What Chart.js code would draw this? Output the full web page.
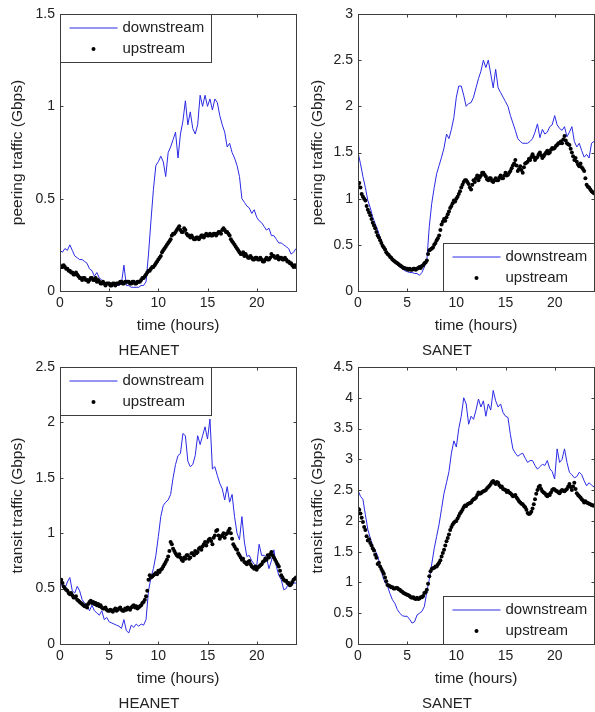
<!DOCTYPE html>
<html><head><meta charset="utf-8">
<script src="https://cdn.jsdelivr.net/npm/chart.js@4/dist/chart.umd.min.js"></script>
<style>
html,body{margin:0;padding:0;background:#fff;}
#wrap{position:relative;width:595px;height:712px;overflow:hidden;background:#fff;}
canvas{position:absolute;}
</style></head><body>
<div id="wrap">
<canvas id="c1" width="300" height="362" style="left:0px;top:0px"></canvas>
<canvas id="c2" width="300" height="362" style="left:298px;top:0px"></canvas>
<canvas id="c3" width="300" height="362" style="left:0px;top:353px"></canvas>
<canvas id="c4" width="300" height="362" style="left:298px;top:353px"></canvas>
</div>
<script>
// ---- categories (time of day, hours) ----
// downstream samples (every 15 min)
const hours = [0,0.25,0.5,0.75,1,1.25,1.5,1.75,2,2.25,2.5,2.75,3,3.25,3.5,3.75,4,4.25,4.5,4.75,5,5.25,5.5,5.75,
6,6.25,6.5,6.75,7,7.25,7.5,7.75,8,8.25,8.5,8.75,9,9.25,9.5,9.75,10,10.25,10.5,10.75,11,11.25,11.5,11.75,
12,12.25,12.5,12.75,13,13.25,13.5,13.75,14,14.25,14.5,14.75,15,15.25,15.5,15.75,16,16.25,16.5,16.75,17,17.25,17.5,17.75,
18,18.25,18.5,18.75,19,19.25,19.5,19.75,20,20.25,20.5,20.75,21,21.25,21.5,21.75,22,22.25,22.5,22.75,23,23.25,23.5,23.75,24];
// upstream samples (every 7.5 min)
const hoursFine = [
0,0.125,0.25,0.375,0.5,0.625,0.75,0.875,1,1.125,1.25,1.375,1.5,1.625,1.75,1.875,
2,2.125,2.25,2.375,2.5,2.625,2.75,2.875,3,3.125,3.25,3.375,3.5,3.625,3.75,3.875,
4,4.125,4.25,4.375,4.5,4.625,4.75,4.875,5,5.125,5.25,5.375,5.5,5.625,5.75,5.875,
6,6.125,6.25,6.375,6.5,6.625,6.75,6.875,7,7.125,7.25,7.375,7.5,7.625,7.75,7.875,
8,8.125,8.25,8.375,8.5,8.625,8.75,8.875,9,9.125,9.25,9.375,9.5,9.625,9.75,9.875,
10,10.125,10.25,10.375,10.5,10.625,10.75,10.875,11,11.125,11.25,11.375,11.5,11.625,11.75,11.875,
12,12.125,12.25,12.375,12.5,12.625,12.75,12.875,13,13.125,13.25,13.375,13.5,13.625,13.75,13.875,
14,14.125,14.25,14.375,14.5,14.625,14.75,14.875,15,15.125,15.25,15.375,15.5,15.625,15.75,15.875,
16,16.125,16.25,16.375,16.5,16.625,16.75,16.875,17,17.125,17.25,17.375,17.5,17.625,17.75,17.875,
18,18.125,18.25,18.375,18.5,18.625,18.75,18.875,19,19.125,19.25,19.375,19.5,19.625,19.75,19.875,
20,20.125,20.25,20.375,20.5,20.625,20.75,20.875,21,21.125,21.25,21.375,21.5,21.625,21.75,21.875,
22,22.125,22.25,22.375,22.5,22.625,22.75,22.875,23,23.125,23.25,23.375,23.5,23.625,23.75,23.875,
24];

// ---- HEANET peering (Gbps) ----
const heaPeerDown = [0.22,0.21,0.23,0.22,0.25,0.22,0.19,0.18, 0.17,0.17,0.16,0.15,0.12,0.11,0.08,0.10,
0.07,0.06,0.05,0.04,0.04,0.03,0.03,0.03, 0.03,0.04,0.14,0.03,0.03,0.02,0.02,0.02,
0.02,0.03,0.03,0.05,0.20,0.38,0.55,0.68, 0.70,0.73,0.70,0.62,0.75,0.78,0.82,0.86,
0.72,0.85,0.92,1.03,0.90,0.97,0.88,0.85, 0.90,1.06,1.00,1.06,1.00,1.04,0.98,1.04,
1.02,0.95,0.90,0.86,0.78,0.80,0.75,0.72, 0.68,0.62,0.50,0.48,0.46,0.45,0.42,0.44,
0.40,0.38,0.37,0.35,0.33,0.34,0.30,0.30, 0.28,0.26,0.26,0.25,0.24,0.23,0.20,0.21, 0.23];
const heaPeerUp = [
0.14,0.13,0.13,0.14,0.13,0.12,0.12,0.11,0.11,0.10,0.10,0.09,0.09,0.10,0.09,0.08,
0.07,0.07,0.06,0.07,0.07,0.06,0.06,0.05,0.06,0.07,0.07,0.06,0.06,0.07,0.05,0.06,
0.05,0.04,0.04,0.05,0.04,0.03,0.04,0.04,0.04,0.03,0.03,0.04,0.04,0.03,0.04,0.04,
0.04,0.05,0.05,0.04,0.04,0.05,0.05,0.05,0.05,0.04,0.04,0.05,0.05,0.04,0.04,0.05,
0.05,0.05,0.06,0.07,0.07,0.08,0.09,0.10,0.11,0.11,0.12,0.13,0.13,0.14,0.15,0.16,
0.17,0.18,0.19,0.21,0.22,0.23,0.24,0.25,0.26,0.27,0.28,0.30,0.31,0.31,0.32,0.33,
0.34,0.35,0.33,0.32,0.32,0.34,0.33,0.31,0.30,0.30,0.29,0.30,0.29,0.28,0.28,0.29,
0.29,0.28,0.29,0.30,0.30,0.29,0.30,0.31,0.30,0.30,0.31,0.30,0.30,0.31,0.31,0.30,
0.31,0.32,0.32,0.31,0.33,0.34,0.33,0.32,0.32,0.31,0.30,0.28,0.27,0.26,0.25,0.24,
0.23,0.22,0.21,0.20,0.20,0.21,0.19,0.20,0.19,0.18,0.18,0.19,0.18,0.17,0.17,0.18,
0.18,0.17,0.17,0.18,0.17,0.16,0.16,0.17,0.18,0.17,0.17,0.18,0.20,0.19,0.19,0.18,
0.18,0.19,0.17,0.18,0.18,0.17,0.17,0.18,0.17,0.16,0.16,0.15,0.15,0.14,0.13,0.14,
0.13];

// ---- SANET peering (Gbps) ----
const sanPeerDown = [1.50,1.38,1.24,1.12,0.98,0.90,0.80,0.73, 0.66,0.58,0.50,0.45,0.40,0.37,0.34,0.31,
0.28,0.26,0.24,0.22,0.21,0.20,0.20,0.19, 0.19,0.17,0.20,0.26,0.33,0.70,0.95,1.12,
1.27,1.36,1.45,1.55,1.70,1.65,1.75,1.88, 2.10,2.22,2.22,2.12,2.00,2.03,2.04,2.10,
2.20,2.30,2.38,2.50,2.42,2.50,2.35,2.20, 2.40,2.20,2.15,2.10,2.05,2.00,1.90,1.82,
1.74,1.65,1.62,1.60,1.60,1.60,1.62,1.65, 1.72,1.81,1.66,1.75,1.70,1.72,1.78,1.80,
1.90,1.80,1.76,1.74,1.78,1.67,1.72,1.78, 1.62,1.56,1.60,1.52,1.45,1.48,1.44,1.60, 1.62];
const sanPeerUp = [
1.15,1.17,1.12,1.05,1.02,1.00,0.98,0.92,0.88,0.85,0.82,0.78,0.74,0.71,0.68,0.64,
0.60,0.58,0.55,0.52,0.49,0.47,0.45,0.42,0.40,0.39,0.37,0.36,0.34,0.33,0.32,0.31,
0.30,0.29,0.28,0.27,0.26,0.25,0.25,0.24,0.24,0.23,0.24,0.23,0.23,0.24,0.24,0.23,
0.24,0.25,0.26,0.25,0.27,0.28,0.30,0.31,0.33,0.40,0.44,0.45,0.46,0.47,0.50,0.52,
0.55,0.57,0.60,0.66,0.72,0.75,0.78,0.76,0.80,0.83,0.86,0.90,0.92,0.95,0.98,0.97,
1.00,1.02,1.05,1.08,1.12,1.15,1.18,1.20,1.20,1.18,1.16,1.12,1.10,1.15,1.20,1.18,
1.22,1.25,1.20,1.23,1.25,1.28,1.28,1.26,1.24,1.21,1.20,1.22,1.22,1.19,1.18,1.20,
1.22,1.20,1.20,1.23,1.25,1.22,1.22,1.25,1.28,1.25,1.26,1.28,1.30,1.33,1.36,1.38,
1.42,1.36,1.30,1.32,1.35,1.31,1.28,1.34,1.38,1.39,1.40,1.43,1.42,1.45,1.48,1.45,
1.42,1.44,1.45,1.48,1.50,1.47,1.44,1.46,1.48,1.50,1.52,1.49,1.50,1.53,1.55,1.54,
1.55,1.57,1.58,1.60,1.60,1.62,1.60,1.64,1.68,1.63,1.60,1.59,1.58,1.54,1.50,1.46,
1.42,1.44,1.40,1.37,1.35,1.38,1.34,1.32,1.30,1.22,1.15,1.13,1.12,1.10,1.08,1.07,
1.06];

// ---- HEANET transit (Gbps) ----
const heaTranDown = [0.55,0.52,0.50,0.56,0.60,0.48,0.46,0.52, 0.48,0.40,0.37,0.35,0.30,0.35,0.30,0.28,
0.26,0.30,0.22,0.24,0.20,0.19,0.18,0.17, 0.16,0.14,0.22,0.12,0.10,0.17,0.15,0.18,
0.16,0.18,0.17,0.22,0.48,0.60,0.68,0.80, 0.97,1.15,1.25,1.28,1.30,1.35,1.50,1.62,
1.70,1.72,1.90,1.88,1.65,1.60,1.62,1.70, 1.88,1.80,1.88,1.96,1.85,2.03,1.58,1.60,
1.52,1.45,1.40,1.30,1.42,1.28,1.35,1.15, 1.00,0.94,1.15,0.92,0.79,0.80,0.75,0.72,
0.70,0.90,0.80,0.80,0.78,0.68,0.75,0.85, 0.70,0.62,0.58,0.49,0.50,0.55,0.52,0.55, 0.55];
const heaTranUp = [
0.57,0.58,0.55,0.52,0.50,0.49,0.48,0.46,0.45,0.46,0.44,0.42,0.42,0.43,0.40,0.39,
0.38,0.37,0.36,0.35,0.34,0.35,0.33,0.36,0.38,0.39,0.37,0.38,0.36,0.37,0.35,0.36,
0.34,0.35,0.33,0.32,0.32,0.33,0.31,0.30,0.30,0.31,0.30,0.29,0.31,0.32,0.30,0.31,
0.32,0.33,0.31,0.30,0.30,0.32,0.31,0.33,0.32,0.31,0.33,0.34,0.35,0.33,0.34,0.32,
0.33,0.34,0.35,0.37,0.38,0.40,0.43,0.48,0.58,0.62,0.60,0.61,0.62,0.63,0.64,0.63,
0.66,0.65,0.67,0.68,0.70,0.72,0.74,0.76,0.79,0.84,0.92,0.90,0.86,0.84,0.82,0.80,
0.79,0.81,0.78,0.76,0.75,0.78,0.77,0.80,0.80,0.77,0.78,0.82,0.82,0.80,0.84,0.82,
0.83,0.86,0.87,0.85,0.88,0.90,0.92,0.89,0.92,0.94,0.95,0.93,0.90,0.96,0.98,1.02,
1.03,0.98,0.95,0.97,0.98,1.00,0.96,0.99,1.00,1.02,1.04,1.00,0.95,0.90,0.88,0.86,
0.85,0.82,0.80,0.78,0.76,0.77,0.74,0.73,0.72,0.74,0.75,0.72,0.70,0.69,0.68,0.70,
0.67,0.69,0.70,0.71,0.72,0.74,0.75,0.77,0.76,0.80,0.78,0.81,0.83,0.80,0.78,0.76,
0.74,0.72,0.70,0.66,0.62,0.60,0.58,0.57,0.57,0.55,0.55,0.53,0.54,0.56,0.58,0.59,
0.60];

// ---- SANET transit (Gbps) ----
const sanTranDown = [2.50,2.40,2.35,2.10,1.86,1.72,1.59,1.52, 1.43,1.28,1.10,1.00,0.94,0.82,0.72,0.66,
0.56,0.50,0.46,0.45,0.45,0.40,0.34,0.36, 0.47,0.50,0.53,0.61,0.85,1.05,1.30,1.55,
1.75,1.95,2.20,2.45,2.62,2.80,3.10,3.30, 3.20,3.50,3.70,4.00,3.90,3.57,3.70,3.65,
3.80,3.98,3.85,3.95,3.70,3.90,3.80,4.12, 3.95,3.85,3.90,3.76,3.70,3.68,3.40,3.17,
3.10,3.05,3.08,3.10,3.02,2.95,2.98,2.98, 2.90,2.84,2.88,2.92,2.90,2.98,2.85,2.80,
2.68,3.17,2.95,3.00,3.17,2.95,2.79,2.75, 2.70,2.72,2.79,2.75,2.65,2.57,2.62,2.58, 2.55];
const sanTranUp = [
2.20,2.18,2.12,2.05,1.98,1.90,1.85,1.75,1.68,1.70,1.64,1.60,1.55,1.52,1.45,1.40,
1.30,1.32,1.26,1.22,1.18,1.14,1.08,1.02,0.96,0.95,0.94,0.92,0.92,0.90,0.90,0.91,
0.91,0.89,0.88,0.86,0.85,0.83,0.82,0.81,0.80,0.79,0.78,0.76,0.75,0.76,0.74,0.73,
0.75,0.73,0.74,0.76,0.76,0.78,0.83,0.84,0.88,0.98,1.10,1.18,1.22,1.23,1.24,1.26,
1.26,1.29,1.32,1.36,1.42,1.48,1.53,1.60,1.67,1.72,1.78,1.85,1.90,1.94,1.97,1.99,
2.00,2.04,2.08,2.12,2.15,2.18,2.22,2.25,2.24,2.27,2.28,2.29,2.30,2.33,2.35,2.36,
2.38,2.42,2.46,2.44,2.45,2.47,2.48,2.49,2.50,2.53,2.55,2.57,2.60,2.63,2.65,2.62,
2.60,2.63,2.62,2.58,2.55,2.56,2.52,2.51,2.50,2.47,2.49,2.46,2.45,2.43,2.40,2.41,
2.42,2.38,2.35,2.32,2.30,2.28,2.27,2.24,2.22,2.18,2.13,2.11,2.12,2.15,2.20,2.27,
2.35,2.44,2.50,2.55,2.57,2.52,2.48,2.46,2.45,2.42,2.40,2.43,2.42,2.46,2.50,2.52,
2.51,2.49,2.48,2.46,2.45,2.48,2.50,2.49,2.48,2.50,2.52,2.56,2.60,2.55,2.50,2.56,
2.62,2.52,2.45,2.42,2.40,2.38,2.35,2.33,2.30,2.32,2.30,2.29,2.28,2.27,2.26,2.25,
2.25];

// ---- tick values ----
const xTicks = [0, 5, 10, 15, 20];
const yTicksHeaPeer = [0, 0.5, 1, 1.5];
const yTicksSanPeer = [0, 0.5, 1, 1.5, 2, 2.5, 3];
const yTicksHeaTran = [0, 0.5, 1, 1.5, 2, 2.5];
const yTicksSanTran = [0, 0.5, 1, 1.5, 2, 2.5, 3, 3.5, 4, 4.5];

const seriesNames = ['downstream', 'upstream'];
const xTitle = 'time (hours)';

const FONT = "'Liberation Sans', Arial, Helvetica, sans-serif";
const TEXT = '#222222';
const AXIS = '#3c3c3c';
const BLUE = '#2a2ae6';

Chart.defaults.font.family = FONT;
Chart.defaults.color = TEXT;

const matlabAxes = {
  id: 'matlabAxes',
  afterDatasetsDraw(chart, args, opts) {
    const {ctx, chartArea: a, scales: {x, y}} = chart;
    const L = Math.round(a.left) + 0.5, R = Math.round(a.right) + 0.5;
    const T = Math.round(a.top) + 0.5, B = Math.round(a.bottom) + 0.5;
    ctx.save();
    ctx.strokeStyle = AXIS;
    ctx.lineWidth = 1;
    ctx.beginPath();
    const tk = 3;
    x.ticks.forEach(t => {
      const px = Math.round(x.getPixelForValue(t.value)) + 0.5;
      ctx.moveTo(px, B); ctx.lineTo(px, B - tk);
      ctx.moveTo(px, T); ctx.lineTo(px, T + tk);
    });
    y.ticks.forEach(t => {
      const py = Math.round(y.getPixelForValue(t.value)) + 0.5;
      ctx.moveTo(L, py); ctx.lineTo(L + tk, py);
      ctx.moveTo(R, py); ctx.lineTo(R - tk, py);
    });
    ctx.stroke();
    ctx.strokeRect(L, T, R - L, B - T);

    // legend box (Matlab style)
    const w = 151, h = 48;
    let x0, y0;
    if (opts.corner === 'br') { x0 = R - w; y0 = B - h; } else { x0 = L; y0 = T; }
    ctx.fillStyle = '#ffffff';
    ctx.fillRect(x0, y0, w, h);
    ctx.strokeRect(x0, y0, w, h);
    const ds = chart.data.datasets;
    const r1 = y0 + 13.5, r2 = y0 + 34.5;
    ctx.strokeStyle = ds[0].borderColor;
    ctx.beginPath(); ctx.moveTo(x0 + 9, r1); ctx.lineTo(x0 + 57, r1); ctx.stroke();
    ctx.fillStyle = ds[1].pointBackgroundColor;
    ctx.beginPath(); ctx.arc(x0 + 33, r2, 2, 0, Math.PI * 2); ctx.fill();
    ctx.fillStyle = TEXT;
    ctx.font = '15px ' + FONT;
    ctx.textBaseline = 'middle';
    ctx.textAlign = 'left';
    ctx.fillText(ds[0].label, x0 + 62, r1);
    ctx.fillText(ds[1].label, x0 + 62, r2);
    ctx.restore();
  }
};

function makeChart(id, down, up, yMax, yTicks, yTitle, caption, corner, yTitlePad) {
  const toXY = (xs, arr) => arr.map((v, i) => ({x: xs[i], y: v}));
  return new Chart(document.getElementById(id), {
    type: 'line',
    data: {
      datasets: [
        {label: seriesNames[0], data: toXY(hours, down), borderColor: BLUE, borderWidth: 1,
         pointRadius: 0, tension: 0, fill: false, order: 1},
        {label: seriesNames[1], data: toXY(hoursFine, up), showLine: false, pointRadius: 2,
         pointBorderWidth: 0, pointBackgroundColor: '#000000', borderColor: '#000000', order: 0}
      ]
    },
    options: {
      responsive: false,
      animation: false,
      events: [],
      layout: {padding: {top: 14, right: 2, left: 0, bottom: 0}},
      scales: {
        x: {
          type: 'linear', min: 0, max: 24,
          afterBuildTicks: s => { s.ticks = xTicks.map(v => ({value: v})); },
          afterFit: s => { s.height = 51; },
          ticks: {font: {size: 14}, color: TEXT, padding: 4, maxRotation: 0, callback: v => String(v)},
          grid: {display: false, drawTicks: false},
          border: {display: false},
          title: {display: true, text: xTitle, font: {size: 15.5}, color: TEXT, padding: {top: 0, bottom: 7}}
        },
        y: {
          type: 'linear', min: 0, max: yMax,
          afterBuildTicks: s => { s.ticks = yTicks.map(v => ({value: v})); },
          afterFit: s => { s.width = 60; },
          ticks: {font: {size: 14}, color: TEXT, padding: 5, callback: v => String(v)},
          grid: {display: false, drawTicks: false},
          border: {display: false},
          title: {display: true, text: yTitle, font: {size: 15.5}, color: TEXT, padding: {top: yTitlePad, bottom: 0}}
        }
      },
      plugins: {
        legend: {display: false},
        tooltip: {enabled: false},
        title: {display: true, text: caption, position: 'bottom', font: {size: 15, weight: 'normal'},
                color: TEXT, padding: {top: 0, bottom: 2}},
        matlabAxes: {corner: corner}
      }
    },
    plugins: [matlabAxes]
  });
}

makeChart('c1', heaPeerDown, heaPeerUp, 1.5, yTicksHeaPeer, 'peering traffic (Gbps)', 'HEANET', 'tl', 8.2);
makeChart('c2', sanPeerDown, sanPeerUp, 3, yTicksSanPeer, 'peering traffic (Gbps)', 'SANET', 'br', 10.7);
makeChart('c3', heaTranDown, heaTranUp, 2.5, yTicksHeaTran, 'transit traffic (Gbps)', 'HEANET', 'tl', 8.2);
makeChart('c4', sanTranDown, sanTranUp, 4.5, yTicksSanTran, 'transit traffic (Gbps)', 'SANET', 'br', 10.7);
</script>
</body></html>
